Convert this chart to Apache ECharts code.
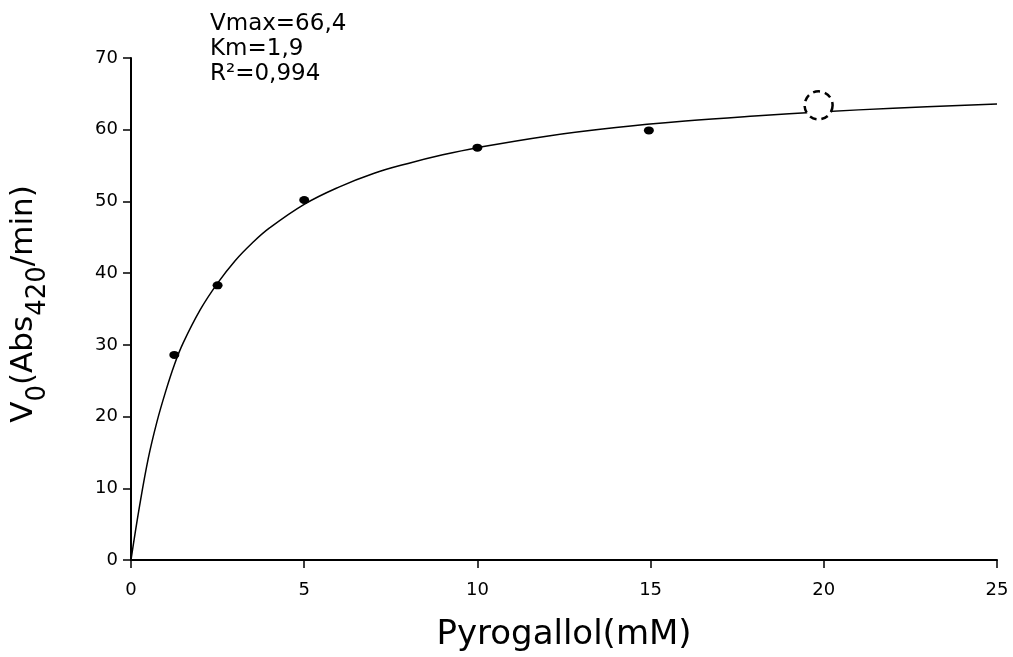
<!DOCTYPE html>
<html>
<head>
<meta charset="utf-8">
<script src="https://cdn.jsdelivr.net/npm/echarts@6/dist/echarts.min.js"></script>
<style>
  html, body { margin: 0; padding: 0; background: #fff; }
  #chart { width: 1013px; height: 657px; }
</style>
</head>
<body>
<div id="chart"></div>
<script>
// ---- data ----
var xTicks = [0, 5, 10, 15, 20, 25];
var yTicks = [0, 10, 20, 30, 40, 50, 60, 70];
var curveX = [0, 0.25, 0.5, 0.75, 1, 1.25, 1.5, 2, 2.5, 3, 3.5, 4, 5, 6, 7, 8, 9, 10, 12, 14, 16, 18, 20, 22, 25];
var curveY = [0, 7.6, 14.2, 19.3, 23.5, 27.2, 30.2, 34.9, 38.6, 41.7, 44.2, 46.3, 49.6, 52.0, 53.9, 55.3, 56.5, 57.5, 59.1, 60.3, 61.2, 61.9, 62.5, 63.0, 63.6];
var pointX = [1.25, 2.5, 5.0, 10.0, 14.95];
var pointY = [28.6, 38.3, 50.2, 57.5, 59.9];
var outlierX = [19.85];
var outlierY = [63.4];
var annotation = ['Vmax=66,4', 'Km=1,9', 'R\u00b2=0,994'];
var xTitle = 'Pyrogallol(mM)';

function pairs(xs, ys) { return xs.map(function (x, i) { return [x, ys[i]]; }); }

var FONT = 'DejaVu Sans';
var chart = echarts.init(document.getElementById('chart'), null, { renderer: 'canvas' });
chart.setOption({
  backgroundColor: '#ffffff',
  animation: false,
  grid: { left: 130, right: 16, top: 58, bottom: 97, containLabel: false },
  xAxis: {
    type: 'value', min: xTicks[0], max: xTicks[xTicks.length - 1], interval: 5,
    axisLine: { show: true, onZero: false, lineStyle: { color: '#000', width: 2 } },
    axisTick: { show: true, length: 8, lineStyle: { color: '#000', width: 1.5 } },
    axisLabel: { color: '#000', fontFamily: FONT, fontSize: 18, margin: 21 },
    splitLine: { show: false },
    name: xTitle, nameLocation: 'middle', nameGap: 58,
    nameTextStyle: { color: '#000', fontFamily: FONT, fontSize: 34 }
  },
  yAxis: {
    type: 'value', min: yTicks[0], max: yTicks[yTicks.length - 1], interval: 10,
    axisLine: { show: true, onZero: false, lineStyle: { color: '#000', width: 2 } },
    axisTick: { show: true, length: 8, lineStyle: { color: '#000', width: 1.5 } },
    axisLabel: { color: '#000', fontFamily: FONT, fontSize: 18, margin: 13 },
    splitLine: { show: false },
    name: '{a|V}{s|0}{a|(Abs}{s|420}{a|/min)}',
    nameLocation: 'middle', nameRotate: 90, nameGap: 80,
    nameTextStyle: {
      color: '#000', fontFamily: FONT, padding: [0, 0, 0, 10],
      rich: {
        a: { fontFamily: FONT, fontSize: 31, lineHeight: 31, verticalAlign: 'top', color: '#000' },
        s: { fontFamily: FONT, fontSize: 26, lineHeight: 43, verticalAlign: 'bottom', color: '#000' }
      }
    }
  },
  graphic: [{
    type: 'text', left: 210, top: 12, z: 100,
    style: {
      text: annotation.join('\n'), fontFamily: FONT, fontSize: 23, lineHeight: 25, fill: '#000'
    }
  }],
  series: [
    {
      type: 'line', data: pairs(curveX, curveY), smooth: 0.4, showSymbol: false,
      lineStyle: { color: '#000', width: 1.5 }, z: 2, silent: true
    },
    {
      type: 'scatter', data: pairs(pointX, pointY), symbol: 'circle', symbolSize: [10, 8],
      itemStyle: { color: '#000', opacity: 1 }, z: 3
    },
    {
      type: 'scatter', data: pairs(outlierX, outlierY), symbol: 'circle', symbolSize: 28,
      itemStyle: { color: '#fff', opacity: 1, borderColor: '#000', borderWidth: 2.5, borderType: [7, 5] }, z: 4
    }
  ]
});
</script>
</body>
</html>
